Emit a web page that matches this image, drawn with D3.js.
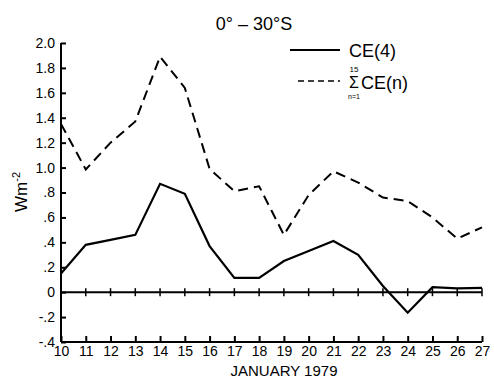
<!DOCTYPE html>
<meta charset="utf-8">
<head>
  <title>CE(4) and sum CE(n), 0-30S</title>
</head>

<style>
body { margin: 0; background: #fff; }
svg text { font-family: "Liberation Sans", Arial, sans-serif; fill: #000; }
.axis path, .axis line { stroke: #000; stroke-width: 2; }
</style>

<body>
  <svg width="494" height="378"></svg>

  <script src="https://cdn.jsdelivr.net/npm/d3@7"></script>

  <script>
// days of January 1979
var days = [10, 11, 12, 13, 14, 15, 16, 17, 18, 19, 20, 21, 22, 23, 24, 25, 26, 27];
// CE(4), W m-2
var ce4 = [0.15, 0.38, 0.42, 0.46, 0.87, 0.79, 0.37, 0.115, 0.115, 0.25, 0.33, 0.41, 0.30, 0.05, -0.165, 0.04, 0.03, 0.035];
// sum n=1..15 of CE(n), W m-2
var ceSum = [1.35, 0.985, 1.2, 1.37, 1.89, 1.64, 0.99, 0.81, 0.85, 0.46, 0.78, 0.97, 0.88, 0.76, 0.73, 0.6, 0.43, 0.52];
var yTicks = [2.0, 1.8, 1.6, 1.4, 1.2, 1.0, 0.8, 0.6, 0.4, 0.2, 0, -0.2, -0.4];
var yTickLabels = ['2.0', '1.8', '1.6', '1.4', '1.2', '1.0', '.8', '.6', '.4', '.2', '0', '-.2', '-.4'];

var svg = d3.select('svg');

var x = d3.scaleLinear().domain([10, 27]).range([61, 482]);
var y = d3.scaleLinear().domain([-0.4, 2.0]).range([342, 43]);

// y axis
var yAxis = d3.axisLeft(y)
  .tickValues(yTicks)
  .tickSize(-5)
  .tickPadding(8)
  .tickFormat(function(d, i) { return yTickLabels[i]; });

var gy = svg.append('g')
  .attr('class', 'axis')
  .attr('transform', 'translate(61,0)')
  .call(yAxis);
gy.select('.domain').attr('d', 'M0,' + y(2.0) + 'V' + y(-0.4));
gy.selectAll('text').style('font-size', '14px').attr('x', -6);

// x axis
var xAxis = d3.axisBottom(x)
  .tickValues(days)
  .tickSize(-6)
  .tickPadding(4)
  .tickFormat(d3.format('d'));

var gx = svg.append('g')
  .attr('class', 'axis')
  .attr('transform', 'translate(0,342)')
  .call(xAxis);
gx.select('.domain').attr('d', 'M' + x(10) + ',0H' + x(27));
gx.selectAll('text').style('font-size', '14px');

// zero line with crossing ticks
svg.append('line')
  .attr('x1', x(10)).attr('x2', x(27))
  .attr('y1', y(0)).attr('y2', y(0))
  .attr('stroke', '#000').attr('stroke-width', 2);

svg.selectAll('.zt')
  .data(days.slice(1))
  .enter().append('line')
  .attr('class', 'zt')
  .attr('x1', function(d) { return x(d); })
  .attr('x2', function(d) { return x(d); })
  .attr('y1', y(0) - 4)
  .attr('y2', y(0) + 4)
  .attr('stroke', '#000').attr('stroke-width', 1.5);

var line = function(vals) {
  return d3.line()
    .x(function(d, i) { return x(days[i]); })
    .y(function(d) { return y(d); })(vals);
};

svg.append('path')
  .attr('d', line(ceSum))
  .attr('fill', 'none')
  .attr('stroke', '#000')
  .attr('stroke-width', 2)
  .attr('stroke-dasharray', '10,6');

svg.append('path')
  .attr('d', line(ce4))
  .attr('fill', 'none')
  .attr('stroke', '#000')
  .attr('stroke-width', 2.2);

// title
svg.append('text')
  .attr('x', 254).attr('y', 30)
  .attr('text-anchor', 'middle')
  .style('font-size', '18px')
  .text('0° – 30°S');

// legend
svg.append('line')
  .attr('x1', 290).attr('x2', 340).attr('y1', 50).attr('y2', 50)
  .attr('stroke', '#000').attr('stroke-width', 2);
svg.append('text')
  .attr('x', 349).attr('y', 57)
  .style('font-size', '18px')
  .text('CE(4)');

svg.append('line')
  .attr('x1', 298).attr('x2', 340).attr('y1', 81).attr('y2', 81)
  .attr('stroke', '#000').attr('stroke-width', 1.5)
  .attr('stroke-dasharray', '6,4');
svg.append('text')
  .attr('x', 354).attr('y', 88)
  .attr('text-anchor', 'middle')
  .style('font-size', '16px')
  .text('Σ');
svg.append('text')
  .attr('x', 354).attr('y', 72)
  .attr('text-anchor', 'middle')
  .style('font-size', '8px')
  .text('15');
svg.append('text')
  .attr('x', 354).attr('y', 99)
  .attr('text-anchor', 'middle')
  .style('font-size', '7px')
  .text('n=1');
svg.append('text')
  .attr('x', 361).attr('y', 89)
  .style('font-size', '18px')
  .text('CE(n)');

// x label
svg.append('text')
  .attr('x', 284).attr('y', 376)
  .attr('text-anchor', 'middle')
  .style('font-size', '15px')
  .text('JANUARY  1979');

// y label
var yl = svg.append('text')
  .attr('transform', 'translate(27,192) rotate(-90)')
  .attr('text-anchor', 'middle')
  .style('font-size', '17px');
yl.append('tspan').text('Wm');
yl.append('tspan').attr('dy', -7).style('font-size', '11px').text('-2');
  </script>
</body>
</html>
